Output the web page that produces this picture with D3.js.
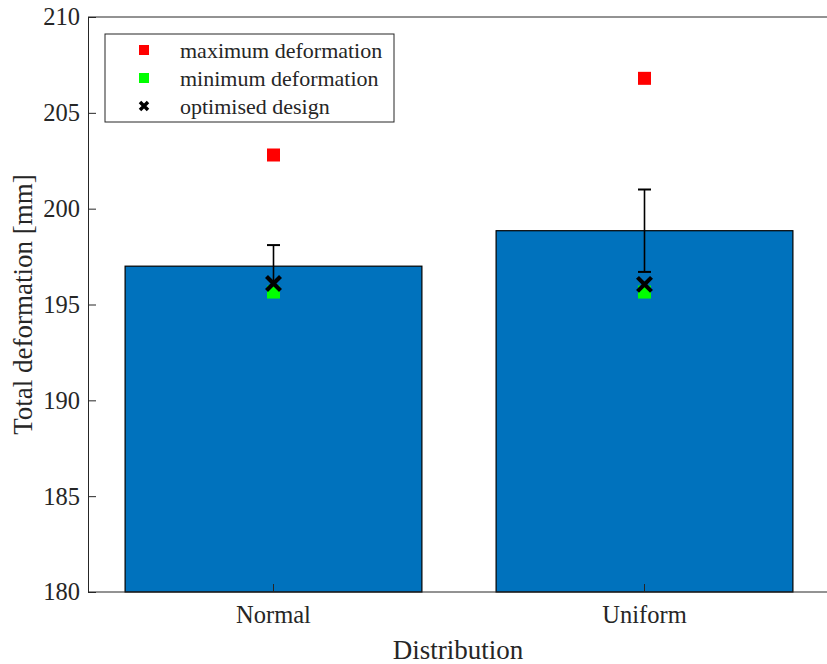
<!DOCTYPE html>
<html>
<head>
<meta charset="utf-8">
<script src="https://cdn.jsdelivr.net/npm/d3@7"></script>
<style>
  body { margin: 0; background: #fff; }
  svg text { font-family: "Liberation Serif", "Times New Roman", serif; fill: #262626; }
</style>
</head>
<body>
<div id="chart"></div>
<script>
// data
const categories = ["Normal", "Uniform"];
const meanValues = [197.0, 198.85];
const errUpper = [198.1, 201.0];
const errLower = [195.9, 196.7];
const maxValues = [202.8, 206.8];
const minValues = [195.65, 195.65];
const optValues = [196.1, 196.05];
const yTicks = [180, 185, 190, 195, 200, 205, 210];

function init() {
    const w = 827, h = 664;
    const margin = { top: 17, right: -3, bottom: 72, left: 88 };
    const axisColor = "#262626";

    const svg = d3.select("#chart").append("svg")
        .attr("width", w)
        .attr("height", h);

    const x = d3.scaleBand()
        .domain(categories)
        .range([margin.left, w - margin.right])
        .paddingInner(0.2)
        .paddingOuter(0.1);

    const y = d3.scaleLinear()
        .domain([180, 210])
        .range([h - margin.bottom, margin.top]);

    const cx = d => x(d) + x.bandwidth() / 2;

    // bars
    svg.append("g")
        .selectAll("rect")
        .data(categories)
        .join("rect")
        .attr("x", d => x(d))
        .attr("y", (d, i) => y(meanValues[i]))
        .attr("width", x.bandwidth())
        .attr("height", (d, i) => y(180) - y(meanValues[i]))
        .attr("fill", "#0072BD")
        .attr("stroke", "#000")
        .attr("stroke-width", 1.2);

    // axes box
    const box = svg.append("g").attr("stroke", axisColor).attr("stroke-width", 1).attr("fill", "none");
    box.append("line").attr("x1", margin.left).attr("x2", w).attr("y1", y(210)).attr("y2", y(210));
    box.append("line").attr("x1", margin.left).attr("x2", w).attr("y1", y(180)).attr("y2", y(180));

    // y axis (ticks inward)
    svg.append("g")
        .attr("transform", `translate(${margin.left},0)`)
        .call(d3.axisLeft(y).tickValues(yTicks).tickSizeInner(-8).tickSizeOuter(0).tickPadding(8))
        .call(g => g.select(".domain").attr("stroke", axisColor))
        .call(g => g.selectAll(".tick line").attr("stroke", axisColor))
        .call(g => g.selectAll(".tick text")
            .style("font-family", "'Liberation Serif', serif")
            .style("font-size", "24.5px")
            .attr("fill", axisColor));

    // x axis (ticks inward)
    svg.append("g")
        .attr("transform", `translate(0,${y(180)})`)
        .call(d3.axisBottom(x).tickSizeInner(-8).tickSizeOuter(0).tickPadding(14))
        .call(g => g.select(".domain").remove())
        .call(g => g.selectAll(".tick line").attr("stroke", axisColor))
        .call(g => g.selectAll(".tick text")
            .style("font-family", "'Liberation Serif', serif")
            .style("font-size", "24.5px")
            .attr("fill", axisColor));

    // axis labels
    svg.append("text")
        .attr("x", 458)
        .attr("y", 659)
        .attr("text-anchor", "middle")
        .style("font-size", "27px")
        .text("Distribution");

    svg.append("text")
        .attr("transform", `translate(32,${(y(180) + y(210)) / 2}) rotate(-90)`)
        .attr("text-anchor", "middle")
        .style("font-size", "27px")
        .text("Total deformation [mm]");

    // error bars
    const eb = svg.append("g").attr("stroke", "#000").attr("stroke-width", 1.6);
    categories.forEach((c, i) => {
        eb.append("line").attr("x1", cx(c)).attr("x2", cx(c))
            .attr("y1", y(errLower[i])).attr("y2", y(errUpper[i]));
        [errLower[i], errUpper[i]].forEach(v => {
            eb.append("line").attr("x1", cx(c) - 6.5).attr("x2", cx(c) + 6.5)
                .attr("y1", y(v)).attr("y2", y(v)).attr("stroke-width", 2);
        });
    });

    // markers
    const sq = 13;
    svg.append("g").selectAll("rect")
        .data(categories)
        .join("rect")
        .attr("x", d => cx(d) - sq / 2)
        .attr("y", (d, i) => y(maxValues[i]) - sq / 2)
        .attr("width", sq).attr("height", sq)
        .attr("fill", "#FF0000");

    svg.append("g").selectAll("rect")
        .data(categories)
        .join("rect")
        .attr("x", d => cx(d) - sq / 2)
        .attr("y", (d, i) => y(minValues[i]) - sq / 2)
        .attr("width", sq).attr("height", sq)
        .attr("fill", "#00FF00");

    svg.append("g").selectAll("path")
        .data(categories)
        .join("path")
        .attr("transform", (d, i) => `translate(${cx(d)},${y(optValues[i])})`)
        .attr("d", "M-7,-7L7,7M-7,7L7,-7")
        .attr("stroke", "#000")
        .attr("stroke-width", 4.2)
        .attr("fill", "none");

    // legend
    const legend = svg.append("g").attr("transform", "translate(105,34)");
    legend.append("rect")
        .attr("width", 289).attr("height", 88)
        .attr("fill", "#fff")
        .attr("stroke", axisColor)
        .attr("stroke-width", 1);

    const items = [
        { label: "maximum deformation", type: "square", color: "#FF0000" },
        { label: "minimum deformation", type: "square", color: "#00FF00" },
        { label: "optimised design", type: "cross", color: "#000" }
    ];
    items.forEach((it, i) => {
        const g = legend.append("g").attr("transform", `translate(39,${16 + i * 28})`);
        if (it.type === "square") {
            g.append("rect").attr("x", -5).attr("y", -5).attr("width", 10).attr("height", 10)
                .attr("fill", it.color);
        } else {
            g.append("path").attr("d", "M-4,-4L4,4M-4,4L4,-4")
                .attr("stroke", it.color).attr("stroke-width", 3.5);
        }
        g.append("text")
            .attr("x", 36)
            .attr("y", 0)
            .attr("dy", "0.35em")
            .style("font-size", "22px")
            .text(it.label);
    });
}

window.onload = init;
</script>
</body>
</html>
